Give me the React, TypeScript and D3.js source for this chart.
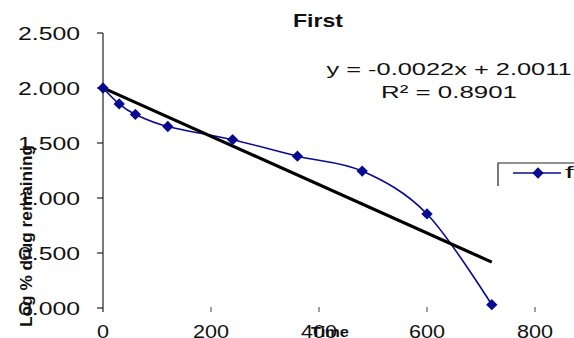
import React, { useEffect, useRef } from 'react';
import * as d3 from 'd3';

// time points and log % drug remaining
const times = [0, 30, 60, 120, 240, 360, 480, 600, 720];
const logRemaining = [2.0, 1.855, 1.76, 1.65, 1.53, 1.38, 1.245, 0.855, 0.03];
const seriesName = 'first';

// linear trend (as printed on the chart)
const trendSlope = -0.0022;
const trendIntercept = 2.0011;
const rSquared = 0.8901;

const xTicks = [0, 200, 400, 600, 800];
const yTicks = [0, 0.5, 1.0, 1.5, 2.0, 2.5];

const W = 574;
const H = 338;

export default function App() {
  const ref = useRef<SVGSVGElement>(null);

  useEffect(() => {
    const svg = d3.select(ref.current);
    svg.selectAll('*').remove();

    const x = d3.scaleLinear().domain([0, 800]).range([103, 535]);
    const y = d3.scaleLinear().domain([0, 2.5]).range([308, 33]);
    const font = 'Liberation Sans, Arial, sans-serif';
    const navy = '#0a0a90';

    // y axis
    svg.append('line')
      .attr('x1', x(0)).attr('x2', x(0))
      .attr('y1', y(2.5)).attr('y2', 312)
      .attr('stroke', '#222').attr('stroke-width', 1.2);

    const yt = svg.append('g');
    yTicks.forEach(v => {
      yt.append('line')
        .attr('x1', x(0) - 6).attr('x2', x(0))
        .attr('y1', y(v)).attr('y2', y(v))
        .attr('stroke', '#222').attr('stroke-width', 1.2);
      yt.append('text')
        .attr('x', 80).attr('y', y(v) + 6.5)
        .attr('text-anchor', 'end')
        .attr('font-family', font).attr('font-size', 18)
        .attr('textLength', 62).attr('lengthAdjust', 'spacingAndGlyphs')
        .attr('fill', '#111')
        .text(d3.format('.3f')(v));
    });

    // x ticks (no visible axis line)
    const xt = svg.append('g');
    xTicks.forEach(v => {
      if (v > 0) {
        xt.append('line')
          .attr('x1', x(v)).attr('x2', x(v))
          .attr('y1', 307).attr('y2', 312)
          .attr('stroke', '#444').attr('stroke-width', 1);
      }
      const s = String(v);
      xt.append('text')
        .attr('x', x(v)).attr('y', 338)
        .attr('text-anchor', 'middle')
        .attr('font-family', font).attr('font-size', 18)
        .attr('textLength', s.length * 12).attr('lengthAdjust', 'spacingAndGlyphs')
        .attr('fill', '#111')
        .text(s);
    });

    // axis titles
    svg.append('text')
      .attr('transform', 'translate(32,236) rotate(-90)')
      .attr('text-anchor', 'middle')
      .attr('font-family', font).attr('font-size', 16).attr('font-weight', 'bold')
      .attr('textLength', 182).attr('lengthAdjust', 'spacingAndGlyphs')
      .attr('fill', '#111')
      .text('Log % drug remaining');

    svg.append('text')
      .attr('x', 330).attr('y', 337)
      .attr('text-anchor', 'middle')
      .attr('font-family', font).attr('font-size', 15).attr('font-weight', 'bold')
      .attr('textLength', 38).attr('lengthAdjust', 'spacingAndGlyphs')
      .attr('fill', '#111')
      .text('Time');

    // title
    svg.append('text')
      .attr('x', 318).attr('y', 27)
      .attr('text-anchor', 'middle')
      .attr('font-family', font).attr('font-size', 18).attr('font-weight', 'bold')
      .attr('textLength', 50).attr('lengthAdjust', 'spacingAndGlyphs')
      .attr('fill', '#111')
      .text('First');

    // series (smoothed)
    const pts = times.map((t, i) => [t, logRemaining[i]] as [number, number]);
    const line = d3.line<[number, number]>()
      .x(d => x(d[0])).y(d => y(d[1]))
      .curve(d3.curveCardinal.tension(0));
    svg.append('path')
      .attr('d', line(pts))
      .attr('fill', 'none').attr('stroke', navy).attr('stroke-width', 1.6);

    // trend line
    const tMax = d3.max(times) as number;
    svg.append('line')
      .attr('x1', x(0)).attr('y1', y(trendIntercept))
      .attr('x2', x(tMax)).attr('y2', y(trendIntercept + trendSlope * tMax))
      .attr('stroke', '#000').attr('stroke-width', 3.2);

    const marker = d3.symbol().type(d3.symbolSquare).size(64);
    svg.append('g').selectAll('path')
      .data(pts)
      .enter().append('path')
      .attr('d', marker())
      .attr('transform', d => 'translate(' + x(d[0]) + ',' + y(d[1]) + ') rotate(45)')
      .attr('fill', navy);

    // equation
    const eq = 'y = ' + trendSlope.toFixed(4) + 'x + ' + trendIntercept.toFixed(4);
    svg.append('text')
      .attr('x', 449).attr('y', 75)
      .attr('text-anchor', 'middle')
      .attr('font-family', font).attr('font-size', 17)
      .attr('textLength', 245).attr('lengthAdjust', 'spacingAndGlyphs')
      .attr('fill', '#111')
      .text(eq);
    svg.append('text')
      .attr('x', 449).attr('y', 98)
      .attr('text-anchor', 'middle')
      .attr('font-family', font).attr('font-size', 17)
      .attr('textLength', 136).attr('lengthAdjust', 'spacingAndGlyphs')
      .attr('fill', '#111')
      .text('R² = ' + rSquared.toFixed(4));

    // legend (box runs off the right edge)
    const lg = svg.append('g');
    lg.append('path')
      .attr('d', 'M498,186 V163 H580')
      .attr('fill', 'none').attr('stroke', '#222').attr('stroke-width', 1.2);
    lg.append('line')
      .attr('x1', 513).attr('x2', 561).attr('y1', 173).attr('y2', 173)
      .attr('stroke', navy).attr('stroke-width', 1.6);
    lg.append('path')
      .attr('d', marker())
      .attr('transform', 'translate(538,173) rotate(45)')
      .attr('fill', navy);
    lg.append('text')
      .attr('x', 565).attr('y', 178)
      .attr('font-family', font).attr('font-size', 17)
      .attr('textLength', 50).attr('lengthAdjust', 'spacingAndGlyphs')
      .attr('fill', '#111')
      .text(seriesName);
  }, []);

  return (
    <div style={{ position: 'absolute', left: 0, top: 0 }}>
      <svg ref={ref} width={W} height={H} style={{ display: 'block', background: '#fff' }} />
    </div>
  );
}
